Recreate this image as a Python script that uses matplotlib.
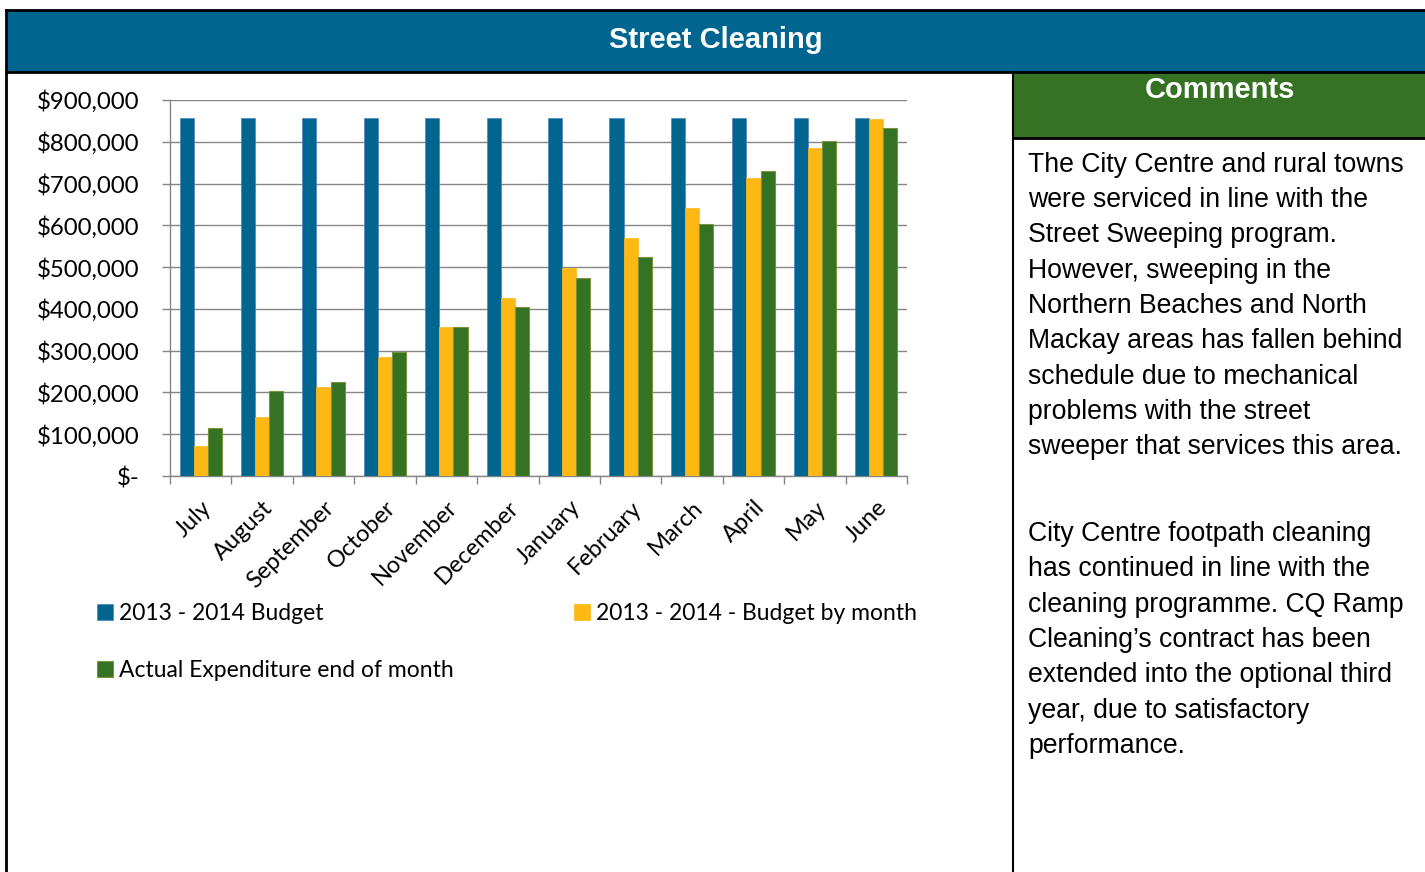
import numpy as np
import matplotlib
matplotlib.use("Agg")
import matplotlib.pyplot as plt
from matplotlib.patches import Rectangle
from matplotlib.lines import Line2D
from matplotlib.ticker import FuncFormatter

# data
months = ["July", "August", "September", "October", "November", "December",
          "January", "February", "March", "April", "May", "June"]
annual_budget = [857000] * 12
budget_by_month = [71000, 142000, 214000, 285000, 356000, 427000,
                   498000, 570000, 641000, 713000, 784000, 855000]
actual_spend = [116000, 204000, 225000, 296000, 357000, 405000,
                473000, 525000, 603000, 730000, 801000, 834000]
series_names = ["2013 - 2014 Budget", "2013 - 2014 - Budget by month",
                "Actual Expenditure end of month"]

comments_1 = ["The City Centre and rural towns",
              "were serviced in line with the",
              "Street Sweeping program.",
              "However, sweeping in the",
              "Northern Beaches and North",
              "Mackay areas has fallen behind",
              "schedule due to mechanical",
              "problems with the street",
              "sweeper that services this area."]
comments_2 = ["City Centre footpath cleaning",
              "has continued in line with the",
              "cleaning programme. CQ Ramp",
              "Cleaning\u2019s contract has been",
              "extended into the optional third",
              "year, due to satisfactory",
              "performance."]

BLUE = "#00668f"
YELLOW = "#fdb813"
GREEN = "#357223"
GRID = "#868686"

W, H = 1425, 872
fig = plt.figure(figsize=(W / 100, H / 100), dpi=100)

def fx(px):
    return px / W

def fy(py):
    return 1 - py / H

# frame / header blocks drawn in figure pixels
def rect(x0, y0, x1, y1, color):
    fig.patches.append(Rectangle((fx(x0), fy(y1)), fx(x1) - fx(x0), fy(y0) - fy(y1),
                                 transform=fig.transFigure, facecolor=color,
                                 edgecolor="none", zorder=0))

def line(xs, ys, lw=2):
    fig.add_artist(Line2D([fx(x) for x in xs], [fy(y) for y in ys],
                          transform=fig.transFigure, color="black", lw=lw, zorder=5))

rect(6, 10, W, 72, BLUE)
rect(1013, 72, W, 138, GREEN)
line([6, W], [10, 10])
line([6, W], [72, 72])
line([6, 6], [10, H])
line([1013, 1013], [72, H], lw=1.5)
line([1013, W], [138, 138])

fig.text(fx(716), fy(40), "Street Cleaning", color="white", fontsize=21,
         fontweight="bold", family="Liberation Sans", ha="center", va="center")
fig.text(fx(1220), fy(90), "Comments", color="white", fontsize=21,
         fontweight="bold", family="Liberation Sans", ha="center", va="center")

for i, s in enumerate(comments_1):
    fig.text(fx(1028), fy(165 + i * 35.25), s, fontsize=19.2, family="Liberation Sans",
             ha="left", va="center", color="black")
for i, s in enumerate(comments_2):
    fig.text(fx(1028), fy(534 + i * 35.3), s, fontsize=19.2, family="Liberation Sans",
             ha="left", va="center", color="black")

# chart
ax = fig.add_axes([fx(170), fy(476), fx(907) - fx(170), fy(100) - fy(476)])
x = np.arange(len(months))
w = 0.23
b1 = ax.bar(x - w, annual_budget, w, color=BLUE, edgecolor="#4f81bd", lw=0.5,
            label=series_names[0], zorder=3)
b2 = ax.bar(x, budget_by_month, w, color=YELLOW, edgecolor="#fdb813", lw=0.5,
            label=series_names[1], zorder=3)
b3 = ax.bar(x + w, actual_spend, w, color=GREEN, edgecolor="#77933c", lw=0.8,
            label=series_names[2], zorder=3)

ax.set_xlim(-0.5, len(months) - 0.5)
ax.set_ylim(0, 900000)
ax.set_yticks(np.arange(0, 900001, 100000))
ax.yaxis.set_major_formatter(FuncFormatter(lambda v, p: "$-" if v == 0 else f"${v:,.0f}"))
ax.grid(axis="y", color=GRID, lw=1.0, zorder=0)
for s in ["top", "right"]:
    ax.spines[s].set_visible(False)
for s in ["left", "bottom"]:
    ax.spines[s].set_color(GRID)
    ax.spines[s].set_linewidth(1.0)
ax.tick_params(axis="y", length=6, color=GRID, width=1.0, pad=16,
               labelsize=17.3, labelfontfamily="Lato")
ax.set_xticks(np.arange(-0.5, len(months)), labels=[])
ax.set_xticks(x, labels=months, minor=True)
ax.tick_params(axis="x", which="major", length=6, color=GRID, width=1.0)
ax.tick_params(axis="x", which="minor", length=0, pad=15,
               labelsize=17, labelfontfamily="Lato")
for t in ax.get_xticklabels(minor=True):
    t.set_rotation(45)
    t.set_ha("right")
    t.set_va("top")
    t.set_rotation_mode("anchor")

leg = ax.legend(handles=[b1, b3, b2], loc="upper left",
                bbox_to_anchor=(fx(97), fy(612), fx(917) - fx(97), 0.01),
                bbox_transform=fig.transFigure, mode="expand", ncol=2,
                frameon=False, prop={"family": "Lato", "size": 16.5},
                handlelength=0.7, handleheight=0.7, handletextpad=0.25,
                labelspacing=1.55, borderaxespad=0, borderpad=0)

fig.savefig("out.png", dpi=100)
